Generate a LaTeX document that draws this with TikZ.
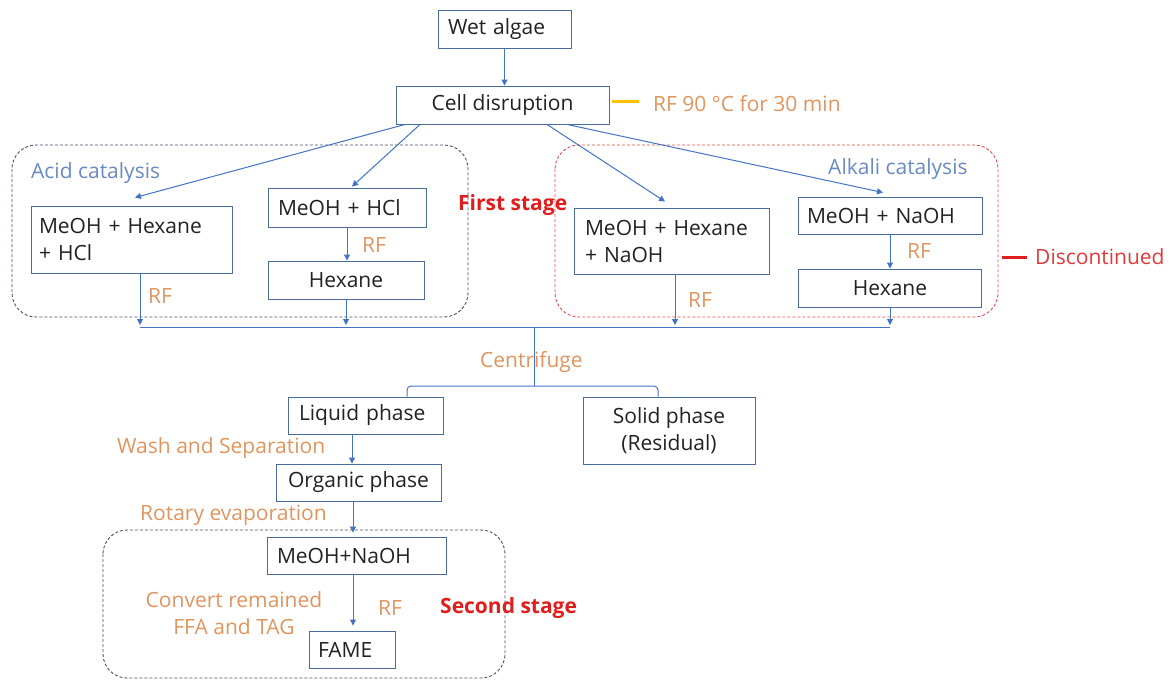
\documentclass[tikz,border=0pt]{standalone}
\usepackage{fontspec}
\setmainfont{Open Sans}
\usetikzlibrary{arrows.meta,calc}
\definecolor{boxc}{HTML}{4A6C9B}
\definecolor{arrc}{HTML}{4472C4}
\definecolor{orng}{HTML}{E0955F}
\definecolor{catc}{HTML}{6A8AC4}
\definecolor{redc}{HTML}{E01E1E}
\definecolor{redl}{HTML}{E03A3A}
\definecolor{dashc}{HTML}{44546A}
\definecolor{rdash}{HTML}{E05050}
\definecolor{yel}{HTML}{FFC000}
\definecolor{txt}{HTML}{222222}
\begin{document}
\begin{tikzpicture}[x=1pt,y=-1pt,
  font=\fontsize{21}{27}\selectfont,
  box/.style={draw=boxc, line width=0.9pt, rectangle, inner sep=0pt, text=txt},
  arr/.style={draw=arrc, line width=1pt, -{Triangle[length=6pt,width=6pt]}},
  ln/.style={draw=arrc, line width=1pt},
  lbl/.style={text=orng, inner sep=0pt, anchor=west},
  grp/.style={line width=0.9pt, dash pattern=on 3pt off 2pt, rounded corners=24pt},
  stage/.style={text=redc, inner sep=0pt, anchor=west, font=\fontsize{21}{27}\selectfont\bfseries}
]
\useasboundingbox[fill=white] (0,0) rectangle (1172,682);

% group frames
\draw[grp, draw=dashc] (12,145) rectangle (468,317);
\draw[grp, draw=rdash] (555,145) rectangle (998,317);
\draw[grp, draw=dashc] (103,530) rectangle (505,678);

% boxes
\node[box, text width=113pt, align=left, inner xsep=10pt, minimum height=38pt] (wet) at (504.5,29) {Wet algae};
\node[box, minimum width=213pt, minimum height=38pt] (cell) at (502.5,105) {Cell disruption};
\node[box, text width=185pt, align=left, inner xsep=8pt, minimum height=67pt] (a1) at (131.5,239.5) {MeOH + Hexane\\+ HCl};
\node[box, text width=138pt, align=left, inner xsep=10pt, minimum height=39pt] (a2) at (347,207.5) {MeOH + HCl};
\node[box, minimum width=156pt, minimum height=38pt] (a3) at (346,280) {Hexane};
\node[box, text width=173pt, align=left, inner xsep=11pt, minimum height=66pt] (b1) at (671.5,241) {MeOH + Hexane\\+ NaOH};
\node[box, text width=166pt, align=left, inner xsep=9pt, minimum height=37pt] (b2) at (890,215.5) {MeOH + NaOH};
\node[box, minimum width=183pt, minimum height=38pt] (b3) at (890,288) {Hexane};
\node[box, text width=133pt, align=left, inner xsep=11pt, minimum height=37pt] (liq) at (365.5,415.5) {Liquid phase};
\node[box, minimum width=165pt, minimum height=37pt] (org) at (358.5,482.5) {Organic phase};
\node[box, minimum width=172pt, minimum height=67pt, align=center] (sol) at (669,430.5) {Solid phase\\(Residual)};
\node[box, text width=159pt, align=left, inner xsep=10pt, minimum height=37pt] (mn) at (356.5,555.5) {MeOH+NaOH};
\node[box, text width=68pt, align=left, inner xsep=9pt, minimum height=37pt] (fame) at (352,649.5) {FAME};

% labels
\node[lbl] (rf0) at (653,104) {RF 90 °C for 30 min};
\node[lbl, text=catc] (acid) at (31,173) {Acid catalysis};
\node[lbl, text=catc] (alk) at (828,169) {Alkali catalysis};
\node[stage] (fs) at (458,205) {First stage};
\node[lbl] (rf1) at (148,296) {RF};
\node[lbl] (rf2) at (362,245) {RF};
\node[lbl] (rf3) at (688,300) {RF};
\node[lbl] (rf4) at (907,251) {RF};
\node[lbl, text=redl] (disc) at (1035,257) {Discontinued};
\node[lbl] (cf) at (480,362) {Centrifuge};
\node[lbl] (ws) at (117,448) {Wash and Separation};
\node[lbl] (re) at (140,515) {Rotary evaporation};
\node[text=orng, align=center, inner sep=0pt] (cv) at (234,613) {Convert remained\\FFA and TAG};
\node[lbl] (rf5) at (378,608) {RF};
\node[stage] (ss) at (440,608) {Second stage};

% marker dashes
\draw[yel, line width=3pt] ([xshift=3pt,yshift=3pt]cell.east) -- ([xshift=-14pt,yshift=2pt]rf0.west);
\draw[redc, line width=3pt] ([xshift=-33pt]disc.west) -- ([xshift=-8pt]disc.west);

% coordinates
\coordinate (m1) at (140,327);
\coordinate (m2) at (346,327);
\coordinate (m3) at (675,327);
\coordinate (m4) at (890,327);
\coordinate (mc) at (534,327);
\coordinate (bc) at (534,386);
\coordinate (bl) at (407,386);
\coordinate (br) at (658,386);

% connectors
\draw[arr] (wet.south) -- (wet.south |- cell.north);
\draw[arr] ([xshift=-97.5pt]cell.south) -- ([xshift=3.5pt,yshift=8pt]a1.north);
\draw[arr] ([xshift=-82.5pt]cell.south) -- ([xshift=5pt,yshift=1pt]a2.north);
\draw[arr] ([xshift=44.5pt]cell.south) -- ([xshift=-6.5pt,yshift=6pt]b1.north);
\draw[arr] ([xshift=64.5pt]cell.south) -- ([xshift=-7pt,yshift=4pt]b2.north);

\draw[arr] (m1 |- a1.south) -- ([yshift=2pt]m1);
\draw[arr] (a2.south) -- (a2.south |- a3.north);
\draw[arr] (a3.south) -- ([yshift=2pt]m2);
\draw[arr] (m3 |- b1.south) -- ([yshift=2pt]m3);
\draw[arr] (b2.south) -- (b3.north);
\draw[arr] (b3.south) -- ([yshift=2pt]m4);
\draw[ln] (m1) -- (m4);
\draw[ln] (mc) -- (bc);
\draw[ln, rounded corners=4pt] (bl |- liq.north) -- (bl) -- (br) -- (br |- sol.north);

\draw[arr] ([xshift=-13.5pt]liq.south) -- ([xshift=-6.5pt]org.north);
\draw[arr] ([xshift=-5.5pt]org.south) -- ([xshift=-3.5pt,yshift=4pt]mn.north);
\draw[arr] ([xshift=-3.5pt]mn.south) -- ([xshift=1pt,yshift=5pt]fame.north);
\end{tikzpicture}
\end{document}
